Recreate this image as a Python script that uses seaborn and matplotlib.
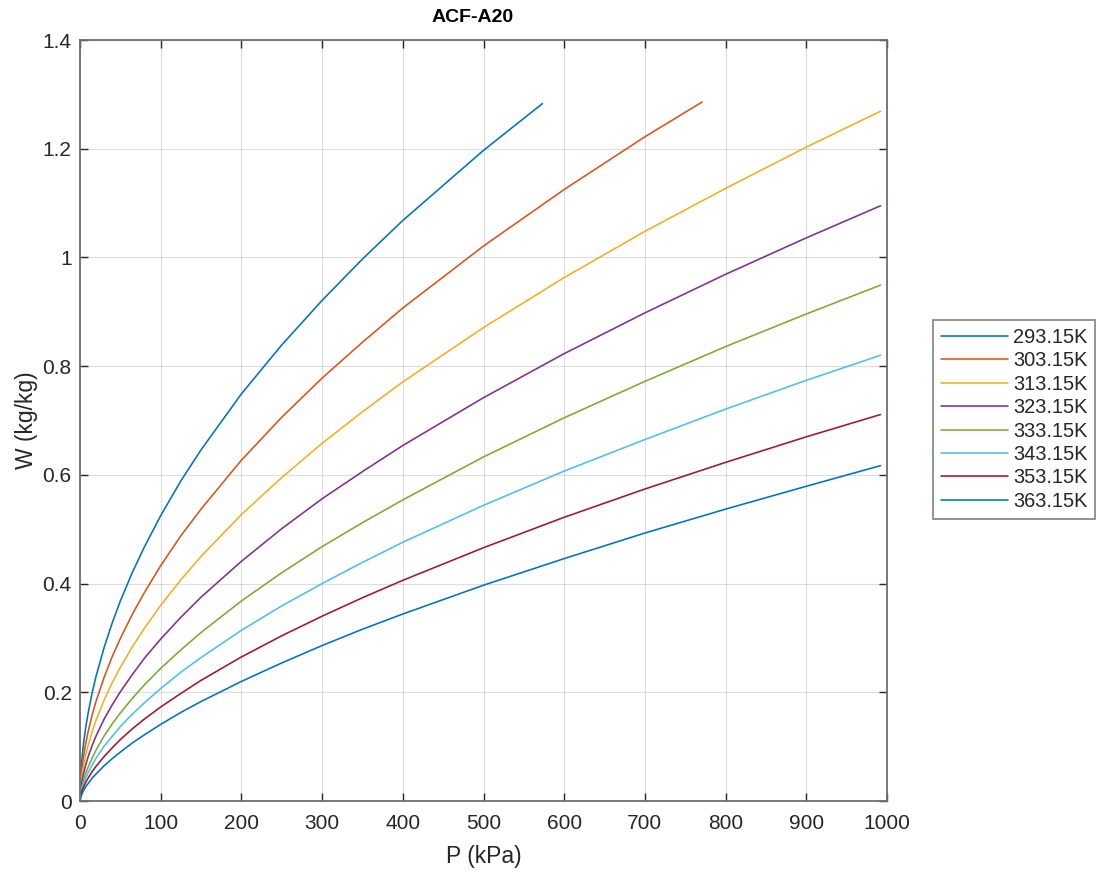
import numpy as np
import pandas as pd
import matplotlib
matplotlib.use("Agg")
import matplotlib.pyplot as plt
import seaborn as sns

# ---- data (P in kPa, W in kg/kg) ----
temps = ["293.15K", "303.15K", "313.15K", "323.15K", "333.15K", "343.15K", "353.15K", "363.15K"]

p_293 = [0, 0.5, 1, 2, 4, 7, 10, 15, 20, 30, 40, 50, 65, 80, 100, 125, 150, 200, 250, 300, 350, 400, 500, 573]
w_293 = [0.000, 0.035, 0.050, 0.071, 0.101, 0.135, 0.161, 0.199, 0.230, 0.283, 0.328, 0.368, 0.421, 0.468,
         0.525, 0.589, 0.646, 0.749, 0.839, 0.921, 0.997, 1.068, 1.197, 1.283]

p_303 = [0, 0.5, 1, 2, 4, 7, 10, 15, 20, 30, 40, 50, 65, 80, 100, 125, 150, 200, 250, 300, 350, 400, 500, 600, 700, 771]
w_303 = [0.000, 0.026, 0.037, 0.054, 0.078, 0.105, 0.127, 0.158, 0.184, 0.228, 0.266, 0.299, 0.344, 0.384,
         0.433, 0.488, 0.537, 0.627, 0.706, 0.778, 0.844, 0.907, 1.021, 1.125, 1.222, 1.286]

p_full = [0, 0.5, 1, 2, 4, 7, 10, 15, 20, 30, 40, 50, 65, 80, 100, 125, 150, 200, 250, 300, 350, 400,
          500, 600, 700, 800, 900, 992]
w_313 = [0.000, 0.020, 0.029, 0.042, 0.061, 0.084, 0.102, 0.127, 0.149, 0.186, 0.218, 0.246, 0.284, 0.318,
         0.360, 0.407, 0.450, 0.527, 0.595, 0.658, 0.716, 0.771, 0.871, 0.963, 1.048, 1.127, 1.203, 1.269]
w_323 = [0.000, 0.015, 0.022, 0.032, 0.048, 0.066, 0.081, 0.102, 0.120, 0.151, 0.177, 0.201, 0.233, 0.263,
         0.298, 0.338, 0.375, 0.441, 0.501, 0.556, 0.606, 0.654, 0.742, 0.823, 0.898, 0.969, 1.036, 1.095]
w_333 = [0.000, 0.011, 0.016, 0.024, 0.036, 0.051, 0.062, 0.079, 0.094, 0.120, 0.142, 0.162, 0.189, 0.214,
         0.244, 0.278, 0.310, 0.368, 0.420, 0.468, 0.512, 0.554, 0.633, 0.705, 0.772, 0.836, 0.896, 0.949]
w_343 = [0.000, 0.009, 0.013, 0.020, 0.030, 0.042, 0.052, 0.066, 0.079, 0.101, 0.119, 0.137, 0.160, 0.181,
         0.207, 0.237, 0.264, 0.314, 0.359, 0.400, 0.439, 0.476, 0.544, 0.607, 0.665, 0.721, 0.774, 0.820]
w_353 = [0.000, 0.007, 0.010, 0.016, 0.024, 0.034, 0.042, 0.054, 0.064, 0.082, 0.098, 0.113, 0.133, 0.151,
         0.173, 0.198, 0.222, 0.265, 0.304, 0.340, 0.374, 0.406, 0.466, 0.522, 0.574, 0.623, 0.670, 0.711]
w_363 = [0.000, 0.005, 0.007, 0.011, 0.018, 0.026, 0.032, 0.042, 0.050, 0.065, 0.078, 0.090, 0.107, 0.122,
         0.141, 0.163, 0.183, 0.220, 0.254, 0.286, 0.316, 0.344, 0.397, 0.446, 0.493, 0.537, 0.579, 0.617]

x_ticks = [0, 100, 200, 300, 400, 500, 600, 700, 800, 900, 1000]
y_ticks = [0, 0.2, 0.4, 0.6, 0.8, 1.0, 1.2, 1.4]
y_tick_labels = ["0", "0.2", "0.4", "0.6", "0.8", "1", "1.2", "1.4"]

series = [
    (temps[0], p_293, w_293),
    (temps[1], p_303, w_303),
    (temps[2], p_full, w_313),
    (temps[3], p_full, w_323),
    (temps[4], p_full, w_333),
    (temps[5], p_full, w_343),
    (temps[6], p_full, w_353),
    (temps[7], p_full, w_363),
]
rows = []
for t, ps, ws in series:
    for p, w in zip(ps, ws):
        rows.append({"T": t, "P": p, "W": w})
df = pd.DataFrame(rows)

colors = ["#0072BD", "#D95319", "#EDB120", "#7E2F8E", "#77AC30", "#4DBEEE", "#A2142F", "#0072BD"]

sns.set_style("white")
plt.rcParams["font.family"] = ["Liberation Sans", "DejaVu Sans"]

fig = plt.figure(figsize=(10.96, 8.71), dpi=100)
ax = fig.add_axes([80 / 1096, (871 - 801) / 871, 807 / 1096, 761 / 871])

sns.lineplot(data=df, x="P", y="W", hue="T", hue_order=temps, palette=colors,
             sort=False, estimator=None, linewidth=1.15, ax=ax, legend=True)

ax.set_xlim(0, 1000)
ax.set_ylim(0, 1.4)
ax.set_xticks(x_ticks)
ax.set_yticks(y_ticks)
ax.set_yticklabels(y_tick_labels)
ax.grid(True, color="#000000", alpha=0.13, linewidth=0.8)
ax.tick_params(direction="in", length=6, width=1, colors="#262626", labelsize=15,
               top=True, right=True, bottom=True, left=True)
ax.tick_params(axis="x", pad=9)
ax.tick_params(axis="y", pad=6)
for s in ax.spines.values():
    s.set_color("#6e6e6e")
    s.set_linewidth(1.3)

ax.set_xlabel("P (kPa)", fontsize=16.5, color="#262626", labelpad=9)
ax.set_ylabel("W (kg/kg)", fontsize=16.5, color="#262626", labelpad=3.5)
ax.set_title("ACF-A20", fontsize=14, fontweight="bold", color="#000000", pad=13, x=0.486)

leg = ax.legend(loc="upper left", bbox_to_anchor=(1.057, 0.632), borderaxespad=0,
                fontsize=14.4, frameon=True, fancybox=False, edgecolor="#6e6e6e",
                handlelength=3.35, handletextpad=0.25, labelspacing=0.22, borderpad=0.4)
leg.get_frame().set_linewidth(1.3)
for t in leg.get_texts():
    t.set_color("#262626")

fig.savefig("out.png", dpi=100)
